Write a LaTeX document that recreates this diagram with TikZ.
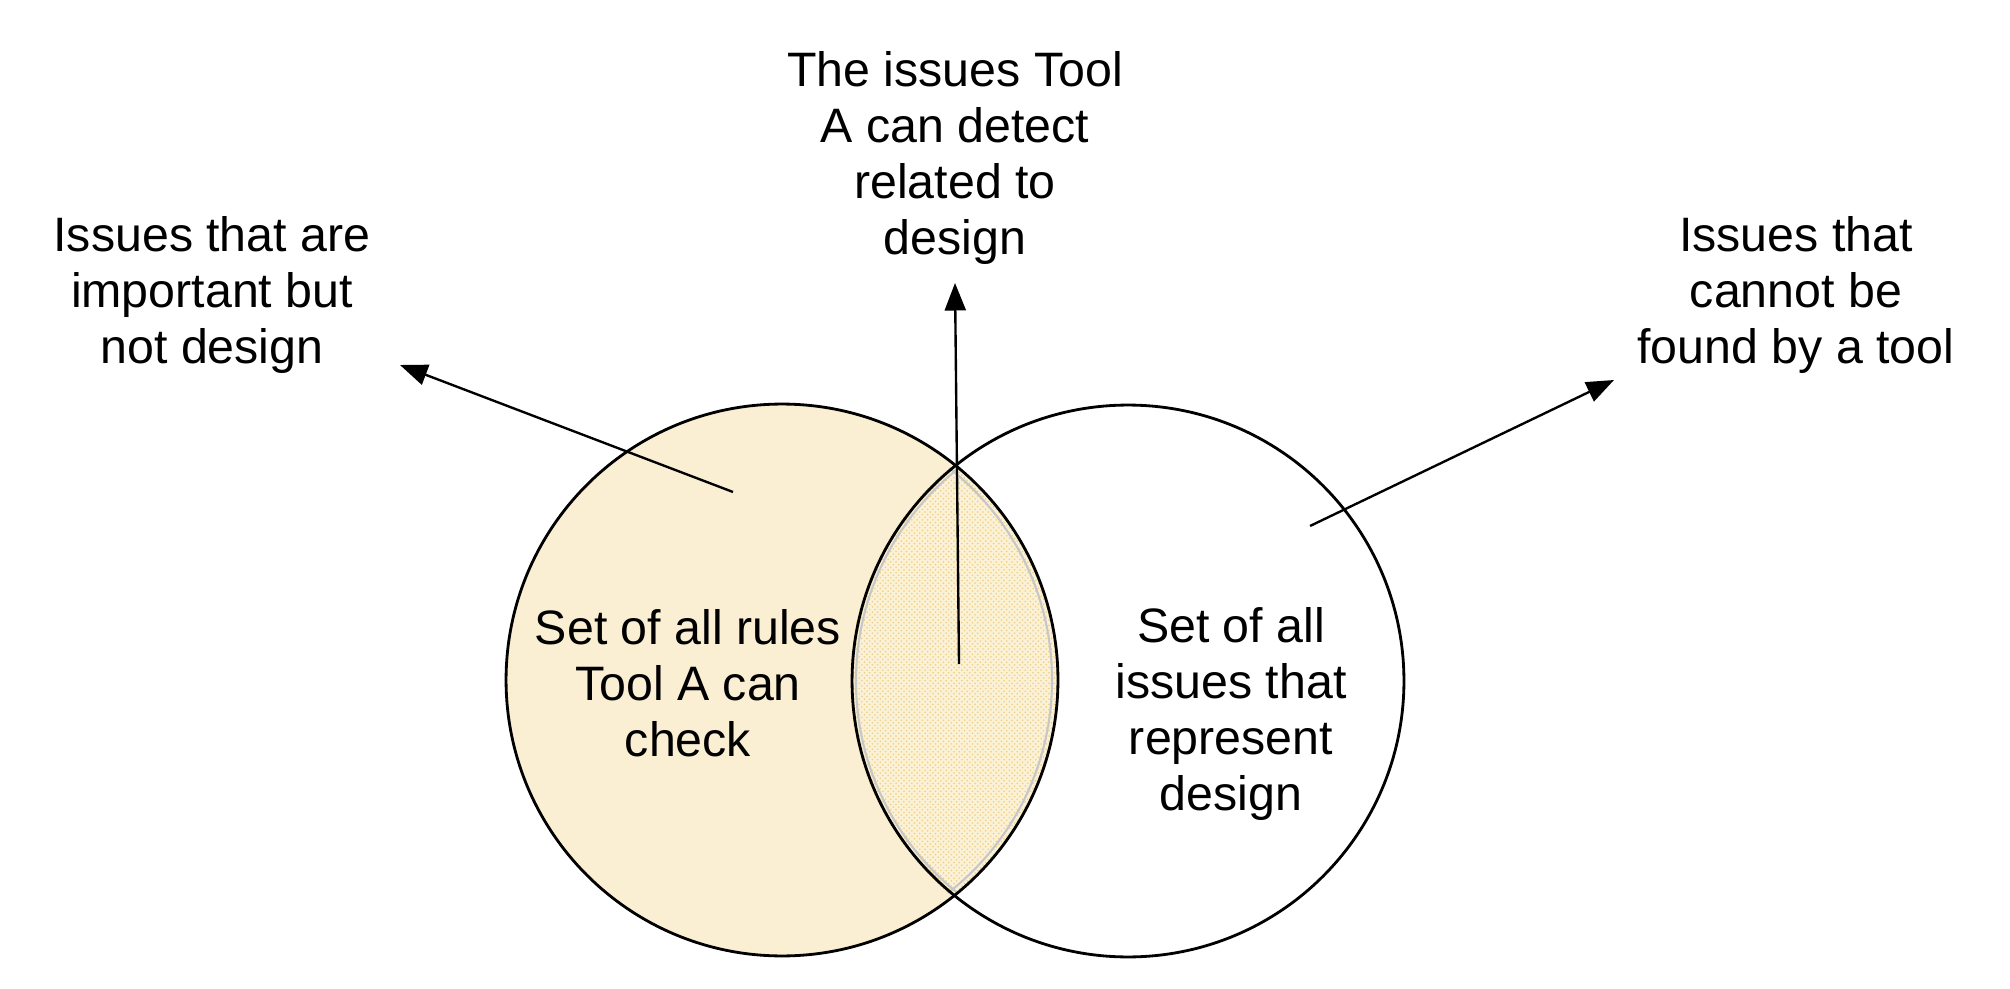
\documentclass[tikz,border=0pt]{standalone}
\usepackage{fontspec}
\setmainfont{Liberation Sans}
\usetikzlibrary{arrows.meta,patterns}
\definecolor{setfill}{RGB}{250,239,210}
\definecolor{lensbg}{RGB}{251,241,214}
\definecolor{lensdot}{RGB}{238,206,128}
\begin{document}
\begin{tikzpicture}[x=0.02cm,y=-0.02cm,
  lbl/.style={align=center,font=\fontsize{27.5}{32}\selectfont,inner sep=0pt},
  setcirc/.style={circle,draw=black,line width=1.6pt,minimum size=11.04cm,inner sep=0pt},
  pointer/.style={line width=1.35pt,-{Triangle[length=0.55cm,width=0.42cm]}}]
\path[use as bounding box] (0,0) rectangle (2010,989);
% fills
\fill[setfill] (782,680) circle (276);
\begin{scope}
  \clip (782,680) circle (276);
  \clip (1128,681) circle (278);
  \fill[lensbg] (1128,681) circle (278);
  \fill[pattern=crosshatch dots,pattern color=lensdot] (1128,681) circle (278);
  \draw[black!22,line width=1.2pt] (1128,681) circle (272);
  \draw[black!22,line width=1.2pt] (782,680) circle (270);
\end{scope}
% circles
\node[setcirc] (tool) at (782,680) {};
\node[setcirc] (design) at (1128,681) {};
% texts
\node[lbl] (tooltxt) at (688,683) {Set of all rules\\Tool A can\\check};
\node[lbl] (designtxt) at (1231,714) {Set of all\\issues that\\represent\\design};
\node[lbl] (toplbl) at (955,158) {The issues Tool\\A can detect\\related to\\design};
\node[lbl] (leftlbl) at (212,295) {Issues that are\\important but\\not design};
\node[lbl] (rightlbl) at (1796,295) {Issues that\\cannot be\\found by a tool};
% pointer start points
\coordinate (s1) at (733,492);
\coordinate (e1) at (400,365);
\coordinate (s2) at (959,664);
\coordinate (e2) at (955,283);
\coordinate (s3) at (1310,526);
\coordinate (e3) at (1614,380);
\draw[pointer] (s1) -- (e1);
\draw[pointer] (s2) -- (e2);
\draw[pointer] (s3) -- (e3);
\end{tikzpicture}
\end{document}
